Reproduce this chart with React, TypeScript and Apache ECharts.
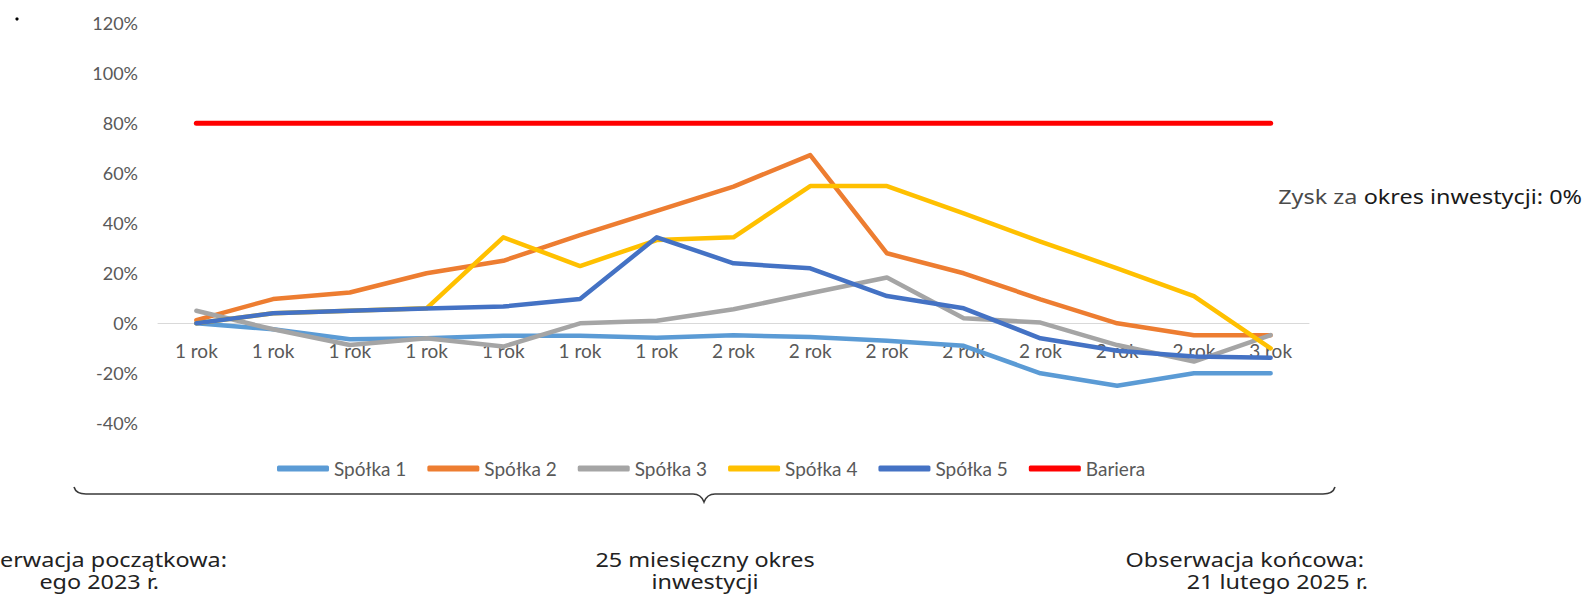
import React, { useEffect, useRef } from "react";
import * as echarts from "echarts";

const categories = [
  "1 rok", "1 rok", "1 rok", "1 rok", "1 rok", "1 rok", "1 rok",
  "2 rok", "2 rok", "2 rok", "2 rok", "2 rok", "2 rok", "2 rok",
  "3 rok",
];

const spolka1 = [0, -2.4, -6.4, -6, -5, -5, -5.8, -4.8, -5.5, -7, -9, -20, -25, -20, -20];
const spolka2 = [1.3, 9.7, 12.3, 20, 25, 35.3, 45, 54.7, 67.3, 28, 20, 9.6, 0, -4.8, -4.8];
const spolka3 = [5, -2.4, -8.7, -6, -9.3, 0, 1, 5.6, 12, 18.3, 2, 0.3, -8.7, -15.3, -4.7];
const spolka4 = [0, 4, 5, 6, 34.4, 22.9, 33.3, 34.4, 54.9, 54.9, 44, 32.7, 22, 10.9, -10];
const spolka5 = [0, 4, 5, 5.9, 6.7, 9.7, 34.4, 24, 22, 10.9, 6, -6, -11, -13.3, -13.8];
const bariera = [80, 80, 80, 80, 80, 80, 80, 80, 80, 80, 80, 80, 80, 80, 80];

const seriesNames = ["Spółka 1", "Spółka 2", "Spółka 3", "Spółka 4", "Spółka 5", "Bariera"];
const seriesColors = ["#5B9BD5", "#ED7D31", "#A5A5A5", "#FFC000", "#4472C4", "#FF0000"];
const seriesValues = [spolka1, spolka2, spolka3, spolka4, spolka5, bariera];

const yMin = -40;
const yMax = 120;
const yStep = 20;

const sideTexts = {
  gainLead: "Zysk za",
  gainRest: " okres inwestycji: 0%",
  startLine1: "erwacja początkowa:",
  startLine2: "ego 2023 r.",
  midLine1: "25 miesięczny okres",
  midLine2: "inwestycji",
  endLine1: "Obserwacja końcowa:",
  endLine2: "21 lutego 2025 r.",
};

let braceRegistered = false;
function registerBrace() {
  if (braceRegistered) return;
  const d =
    "M74 487 Q76 494 86 494 L693 494 Q701 494 704 502 Q707 494 715 494 L1323 494 Q1333 494 1335 487";
  echarts.graphic.registerShape("brace", echarts.graphic.extendPath(d, {}) as any);
  braceRegistered = true;
}

export default function App() {
  const ref = useRef<HTMLDivElement>(null);

  useEffect(() => {
    if (!ref.current) return;
    registerBrace();
    const chart = echarts.init(ref.current, undefined, { renderer: "svg" });
    const axisFont = "Lato, 'Liberation Sans', sans-serif";
    const textFont = "'Noto Sans', 'Open Sans', sans-serif";
    const txt = (text: string, x: number, y: number, align: string) => ({
      type: "text",
      x,
      y,
      scaleX: 1.17,
      scaleY: 1,
      style: {
        text,
        fontSize: 20,
        fontFamily: textFont,
        fill: "#222222",
        align,
        verticalAlign: "middle",
      },
    });

    const option: any = {
      animation: false,
      backgroundColor: "#ffffff",
      grid: { left: 158, right: 277, top: 23.3, bottom: 177.7, containLabel: false },
      legend: {
        show: true,
        left: 277,
        top: 459,
        padding: 0,
        itemWidth: 52,
        itemHeight: 6,
        itemGap: 21,
        icon: "roundRect",
        textStyle: { color: "#595959", fontSize: 19, fontFamily: axisFont },
        data: seriesNames,
      },
      xAxis: {
        type: "category",
        data: categories,
        boundaryGap: true,
        position: "bottom",
        offset: -100,
        axisTick: { show: false },
        axisLine: { show: true, onZero: false, lineStyle: { color: "#D9D9D9", width: 1 } },
        axisLabel: {
          interval: 0,
          color: "#595959",
          fontSize: 19,
          fontFamily: axisFont,
          margin: 18,
        },
        splitLine: { show: false },
      },
      yAxis: {
        type: "value",
        min: yMin,
        max: yMax,
        interval: yStep,
        axisLine: { show: false },
        axisTick: { show: false },
        splitLine: { show: false },
        axisLabel: {
          color: "#595959",
          fontSize: 18,
          fontFamily: axisFont,
          margin: 20,
          formatter: (v: number) => `${v}%`,
        },
      },
      series: seriesNames.map((name, i) => ({
        name,
        type: "line",
        data: seriesValues[i],
        symbol: "none",
        showSymbol: false,
        color: seriesColors[i],
        lineStyle: {
          color: seriesColors[i],
          width: i === 5 ? 5 : 4.5,
          cap: "round",
          join: "round",
        },
        itemStyle: { color: seriesColors[i] },
        emphasis: { disabled: true },
      })),
      graphic: [
        { type: "circle", shape: { cx: 17, cy: 19, r: 1.6 }, style: { fill: "#000" } },
        {
          type: "brace",
          x: 0,
          y: 0,
          scaleX: 1,
          scaleY: 1,
          shape: {},
          style: { stroke: "#3a3a3a", lineWidth: 1.6, fill: "none" },
        },
        {
          type: "text",
          x: 1582,
          y: 196,
          scaleX: 1.17,
          scaleY: 1,
          style: {
            text: `{a|${sideTexts.gainLead}}{b|${sideTexts.gainRest}}`,
            fontSize: 20,
            fontFamily: textFont,
            align: "right",
            verticalAlign: "middle",
            rich: {
              a: { fontSize: 20, fontFamily: textFont, fill: "#4a4a4a" },
              b: { fontSize: 20, fontFamily: textFont, fill: "#1a1a1a" },
            },
          },
        },
        txt(sideTexts.startLine1, 227, 559, "right"),
        txt(sideTexts.startLine2, 159, 581, "right"),
        txt(sideTexts.midLine1, 705, 559, "center"),
        txt(sideTexts.midLine2, 705, 581, "center"),
        txt(sideTexts.endLine1, 1364, 559, "right"),
        txt(sideTexts.endLine2, 1368, 581, "right"),
      ],
    };

    chart.setOption(option);
    return () => {
      chart.dispose();
    };
  }, []);

  return (
    <div
      ref={ref}
      style={{ position: "fixed", left: 0, top: 0, width: 1586, height: 601, background: "#fff" }}
    />
  );
}
